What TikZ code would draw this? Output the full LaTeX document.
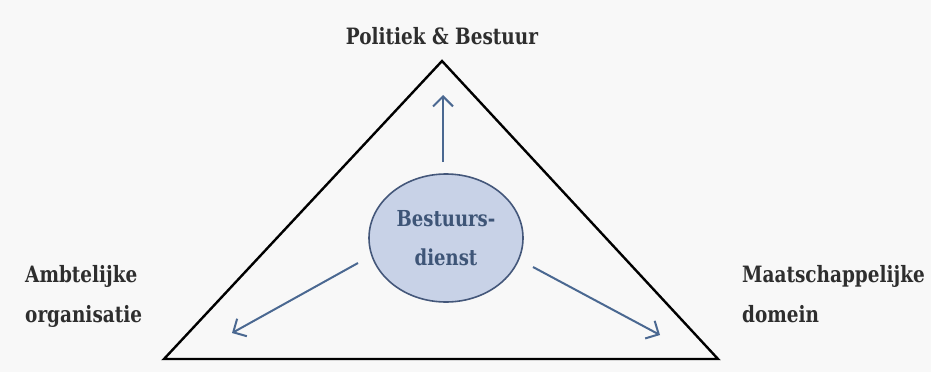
\documentclass[tikz,border=0pt]{standalone}
\usepackage{fontspec}
\newfontfamily\slab[FakeStretch=0.82]{DejaVu Serif}
\usetikzlibrary{arrows.meta,shapes.geometric}
\definecolor{bgc}{HTML}{F8F8F8}
\definecolor{ellfill}{HTML}{C8D2E7}
\definecolor{elldraw}{HTML}{44577A}
\definecolor{elltext}{HTML}{3E5577}
\definecolor{arrc}{HTML}{4A6891}
\definecolor{labc}{HTML}{2E2E2E}
\tikzset{
  lab/.style={font=\slab\bfseries\fontsize{22.5}{40}\selectfont, text=labc, inner sep=0pt, align=left},
  centre/.style={ellipse, draw=elldraw, line width=1.6pt, fill=ellfill, minimum width=154pt, minimum height=128pt, inner sep=0pt, font=\slab\bfseries\fontsize{22}{39}\selectfont, text=elltext, align=center},
  tri/.style={draw=black, line width=2.4pt, line join=miter},
  flow/.style={draw=arrc, line width=2pt, -{Straight Barb[length=10pt,width=20pt,line width=2pt]}}
}
\begin{document}
\begin{tikzpicture}[x=1pt,y=-1pt]
\fill[bgc] (0,0) rectangle (931,372);
\useasboundingbox (0,0) rectangle (931,372);
\coordinate (top) at (442,61);
\coordinate (bl) at (164,359);
\coordinate (br) at (718,359);
\draw[tri] (top) -- (bl) -- (br) -- cycle;
\node[centre] (ell) at (446,238) {Bestuurs-\\dienst};
\coordinate (upS) at (443,162);
\coordinate (upE) at (443,95);
\coordinate (lS) at (358,263);
\coordinate (lE) at (232,333);
\coordinate (rS) at (533,267);
\coordinate (rE) at (660,335);
\draw[flow] (upS) -- (upE);
\draw[flow] (lS) -- (lE);
\draw[flow] (rS) -- (rE);
\node[lab, anchor=base] (pol) at (442,44) {Politiek \& Bestuur};
\node[lab, anchor=base west] (amb) at (25,322) {Ambtelijke\\organisatie};
\node[lab, anchor=base west] (maa) at (742,322) {Maatschappelijke\\domein};
\end{tikzpicture}
\end{document}
